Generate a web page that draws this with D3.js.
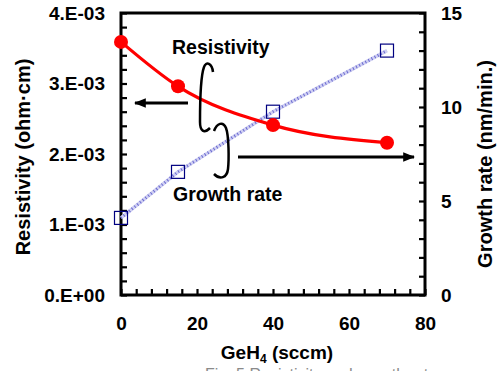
<!DOCTYPE html>
<html>
<head>
<meta charset="utf-8">
<script src="https://cdn.jsdelivr.net/npm/d3@7"></script>
<style>
  html, body { margin: 0; padding: 0; background: #fff; }
  svg { display: block; }
  text { font-family: Arial, "Liberation Sans", sans-serif; }
</style>
</head>
<body>
<svg id="chart" width="501" height="371"></svg>
<script>
// GeH4 flow rate (sccm)
const gehFlow = [0, 15, 40, 70];
// Resistivity (ohm-cm)
const resistivity = [0.00359, 0.00296, 0.00241, 0.00216];
// Growth rate (nm/min.)
const growthRate = [4.1, 6.55, 9.75, 13.0];

const xTickValues = [0, 20, 40, 60, 80];
const leftTickValues = [0, 0.001, 0.002, 0.003, 0.004];
const leftTickLabels = ["0.E+00", "1.E-03", "2.E-03", "3.E-03", "4.E-03"];
const rightTickValues = [0, 5, 10, 15];

const svg = d3.select("#chart");
svg.append("rect").attr("width", 501).attr("height", 371).attr("fill", "#fff");

const plot = { left: 121, right: 425, top: 13, bottom: 295 };

const x = d3.scaleLinear().domain([0, 80]).range([plot.left, plot.right]);
const yL = d3.scaleLinear().domain([0, 0.004]).range([plot.bottom, plot.top]);
const yR = d3.scaleLinear().domain([0, 15]).range([plot.bottom, plot.top]);

// inward tick marks
const xMinor = d3.range(0, 80.01, 4);
const yLMinor = d3.range(0, 0.0040001, 0.0002);
const yRMinor = d3.range(0, 15.01, 1);

function styleTicks(g) {
  g.select(".domain").remove();
  g.selectAll(".tick line").attr("stroke", "#000").attr("stroke-width", 2.2);
}

svg.append("g").attr("transform", `translate(0,${plot.bottom})`)
  .call(d3.axisBottom(x).tickValues(xMinor).tickSize(-6).tickFormat(""))
  .call(styleTicks);
svg.append("g").attr("transform", `translate(${plot.left},0)`)
  .call(d3.axisLeft(yL).tickValues(yLMinor).tickSize(-6).tickFormat(""))
  .call(styleTicks);
svg.append("g").attr("transform", `translate(${plot.right},0)`)
  .call(d3.axisRight(yR).tickValues(yRMinor).tickSize(-6).tickFormat(""))
  .call(styleTicks);

// tick labels
function styleLabels(g) {
  g.select(".domain").remove();
  g.selectAll(".tick line").remove();
  g.selectAll(".tick text")
    .attr("fill", "#000")
    .attr("font-size", 19)
    .attr("font-weight", "bold")
    .attr("font-family", 'Arial, "Liberation Sans", sans-serif');
}

svg.append("g").attr("transform", `translate(0,${plot.bottom})`)
  .call(d3.axisBottom(x).tickValues(xTickValues).tickSize(0).tickPadding(22).tickFormat(d3.format("d")))
  .call(styleLabels);
svg.append("g").attr("transform", `translate(${plot.left},0)`)
  .call(d3.axisLeft(yL).tickValues(leftTickValues).tickSize(0).tickPadding(16)
    .tickFormat((d, i) => leftTickLabels[i]))
  .call(styleLabels);
svg.append("g").attr("transform", `translate(${plot.right},0)`)
  .call(d3.axisRight(yR).tickValues(rightTickValues).tickSize(0).tickPadding(16).tickFormat(d3.format("d")))
  .call(styleLabels);

// frame
svg.append("rect")
  .attr("x", plot.left).attr("y", plot.top)
  .attr("width", plot.right - plot.left).attr("height", plot.bottom - plot.top)
  .attr("fill", "none").attr("stroke", "#000").attr("stroke-width", 3);

// growth rate line (textured light blue)
const growthPts = gehFlow.map((g, i) => [x(g), yR(growthRate[i])]);
const straight = d3.line();
svg.append("path").attr("d", straight(growthPts))
  .attr("fill", "none").attr("stroke", "#cfcff2").attr("stroke-width", 3.5);
svg.append("path").attr("d", straight(growthPts))
  .attr("fill", "none").attr("stroke", "#6a6ad0").attr("stroke-width", 3)
  .attr("stroke-dasharray", "1,2.5");

// growth rate markers
svg.append("g").selectAll("rect")
  .data(gehFlow.map((g, i) => ({ g, v: growthRate[i] })))
  .join("rect")
  .attr("x", d => x(d.g) - 6.5).attr("y", d => yR(d.v) - 6.5)
  .attr("width", 13).attr("height", 13)
  .attr("fill", "none").attr("stroke", "#000080").attr("stroke-width", 1.2);

// resistivity curve
const resPts = gehFlow.map((g, i) => [x(g), yL(resistivity[i])]);
svg.append("path").attr("d", d3.line().curve(d3.curveMonotoneX)(resPts))
  .attr("fill", "none").attr("stroke", "#ff0000").attr("stroke-width", 3.2);
svg.append("g").selectAll("circle")
  .data(resPts).join("circle")
  .attr("cx", d => d[0]).attr("cy", d => d[1]).attr("r", 7)
  .attr("fill", "#ff0000");

// annotations
svg.append("defs").append("marker")
  .attr("id", "head").attr("viewBox", "0 0 10 10")
  .attr("refX", 9).attr("refY", 5)
  .attr("markerWidth", 4).attr("markerHeight", 4)
  .attr("markerUnits", "strokeWidth")
  .attr("orient", "auto")
  .append("path").attr("d", "M0,1 L10,5 L0,9 Z").attr("fill", "#000");

svg.append("line")
  .attr("x1", 188).attr("y1", 103).attr("x2", 135).attr("y2", 103)
  .attr("stroke", "#000").attr("stroke-width", 3).attr("marker-end", "url(#head)");
svg.append("line")
  .attr("x1", 238).attr("y1", 157).attr("x2", 414).attr("y2", 157)
  .attr("stroke", "#000").attr("stroke-width", 3).attr("marker-end", "url(#head)");

// bracket strokes linking the labels
svg.append("path")
  .attr("d", "M213,72 C212,63 206,61 204,67 C200,78 200,110 200,122 C200,131 204,134 210,128")
  .attr("fill", "none").attr("stroke", "#000").attr("stroke-width", 2.5);
svg.append("path")
  .attr("d", "M214,131 C217,123 223,121 226,128 C229,136 229,160 228,169 C227,178 220,180 214,174")
  .attr("fill", "none").attr("stroke", "#000").attr("stroke-width", 2.5);

svg.append("text").attr("x", 172).attr("y", 54)
  .attr("font-size", 19.5).attr("font-weight", "bold").text("Resistivity");
svg.append("text").attr("x", 173).attr("y", 201)
  .attr("font-size", 19.5).attr("font-weight", "bold").text("Growth rate");

// axis titles
svg.append("text")
  .attr("transform", "translate(30,157) rotate(-90)")
  .attr("text-anchor", "middle").attr("font-size", 20).attr("font-weight", "bold")
  .text("Resistivity (ohm\u00b7cm)");
svg.append("text")
  .attr("transform", "translate(492,164) rotate(-90)")
  .attr("text-anchor", "middle").attr("font-size", 20).attr("font-weight", "bold")
  .text("Growth rate (nm/min.)");

const xTitle = svg.append("text")
  .attr("x", 277).attr("y", 359)
  .attr("text-anchor", "middle").attr("font-size", 19).attr("font-weight", "bold");
xTitle.append("tspan").text("GeH");
xTitle.append("tspan").attr("font-size", 12).attr("dy", 4).text("4");
xTitle.append("tspan").attr("dy", -4).text(" (sccm)");

// figure caption below the chart
svg.append("text")
  .attr("x", 205).attr("y", 380)
  .attr("font-family", '"Times New Roman", "Liberation Serif", serif')
  .attr("font-size", 16).attr("fill", "#8a8a8a")
  .text("Fig. 5 Resistivity and growth rate");
</script>
</body>
</html>
